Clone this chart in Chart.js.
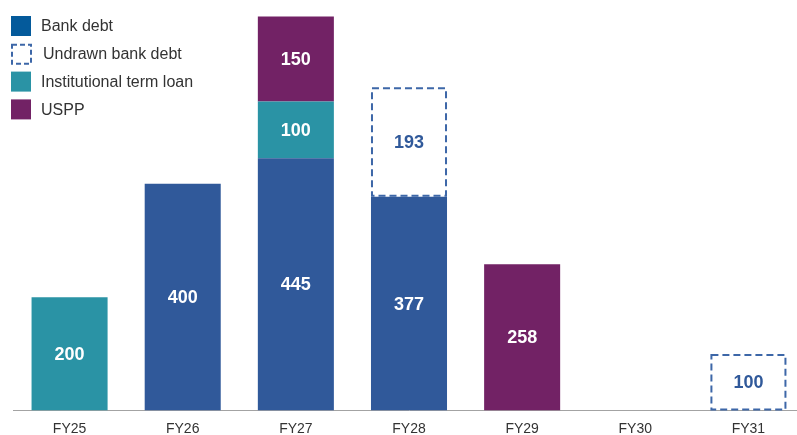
<!DOCTYPE html>
<html>
<head>
<meta charset="utf-8">
<script src="https://cdn.jsdelivr.net/npm/chart.js@4.4.1/dist/chart.umd.min.js"></script>
<style>
  html, body { margin: 0; padding: 0; background: #fff; overflow: hidden; }
  #wrap { width: 805px; height: 448px; }
</style>
</head>
<body>
<div id="wrap"><canvas id="debt" width="805" height="448"></canvas></div>
<script>
// Debt maturity profile by financial year ($m)
const categories = ['FY25', 'FY26', 'FY27', 'FY28', 'FY29', 'FY30', 'FY31'];
const bankDebt = [null, 400, 445, 377, null, null, null];
const termLoan = [200, null, 100, null, null, null, null];
const uspp = [null, null, 150, null, 258, null, null];
const undrawnBankDebt = [null, null, null, 193, null, null, 100];

const BLUE = '#30599a';
const LEGEND_BLUE = '#045a9b';
const DASH_BLUE = '#3d67a8';
const TEAL = '#2a93a5';
const PURPLE = '#722265';
const FONT = '"Liberation Sans", Arial, sans-serif';

// undrawn facilities are outlined with a dashed box instead of filled
const dashedBars = {
  id: 'dashedBars',
  afterDatasetsDraw(chart) {
    const ctx = chart.ctx;
    chart.data.datasets.forEach((ds, i) => {
      if (!ds.dashed) return;
      chart.getDatasetMeta(i).data.forEach((bar, j) => {
        if (ds.data[j] == null) return;
        const w = bar.width;
        ctx.save();
        ctx.strokeStyle = DASH_BLUE;
        ctx.lineWidth = 2;
        ctx.setLineDash([7, 4]);
        ctx.strokeRect(bar.x - w / 2 + 1, bar.y + 1, w - 2, bar.base - bar.y - 2);
        ctx.restore();
      });
    });
  }
};

// value printed in the middle of each segment
const segmentLabels = {
  id: 'segmentLabels',
  afterDatasetsDraw(chart) {
    const ctx = chart.ctx;
    ctx.save();
    ctx.font = 'bold 18px ' + FONT;
    ctx.textAlign = 'center';
    ctx.textBaseline = 'middle';
    chart.data.datasets.forEach((ds, i) => {
      chart.getDatasetMeta(i).data.forEach((bar, j) => {
        const v = ds.data[j];
        if (v == null) return;
        ctx.fillStyle = ds.dashed ? BLUE : '#ffffff';
        ctx.fillText(String(v), bar.x, (bar.y + bar.base) / 2 + 1);
      });
    });
    ctx.restore();
  }
};

// vertical key in the top-left corner
const keyItems = [
  { label: 'Bank debt', color: LEGEND_BLUE },
  { label: 'Undrawn bank debt', dashed: true },
  { label: 'Institutional term loan', color: TEAL },
  { label: 'USPP', color: PURPLE }
];
const cornerLegend = {
  id: 'cornerLegend',
  afterDraw(chart) {
    const ctx = chart.ctx;
    ctx.save();
    ctx.font = '16px ' + FONT;
    ctx.textBaseline = 'middle';
    keyItems.forEach((item, k) => {
      const cy = 26 + k * 27.8;
      if (item.dashed) {
        ctx.strokeStyle = DASH_BLUE;
        ctx.lineWidth = 2;
        ctx.setLineDash([5, 3]);
        ctx.strokeRect(12, cy - 9, 19, 19);
        ctx.setLineDash([]);
      } else {
        ctx.fillStyle = item.color;
        ctx.fillRect(11, cy - 10, 20, 20);
      }
      ctx.fillStyle = '#333333';
      ctx.fillText(item.label, item.dashed ? 43 : 41, cy + 1);
    });
    ctx.restore();
  }
};

new Chart(document.getElementById('debt'), {
  type: 'bar',
  data: {
    labels: categories,
    datasets: [
      { label: 'Bank debt', data: bankDebt, backgroundColor: BLUE },
      { label: 'Institutional term loan', data: termLoan, backgroundColor: TEAL },
      { label: 'USPP', data: uspp, backgroundColor: PURPLE },
      { label: 'Undrawn bank debt', data: undrawnBankDebt, backgroundColor: 'rgba(0,0,0,0)', dashed: true }
    ]
  },
  options: {
    responsive: false,
    animation: false,
    layout: { padding: { left: 13, right: 0, top: 0, bottom: 0 } },
    datasets: { bar: { categoryPercentage: 1, barPercentage: 0.672, borderWidth: 0 } },
    plugins: { legend: { display: false }, tooltip: { enabled: false } },
    scales: {
      x: {
        stacked: true,
        grid: { display: false, drawTicks: false },
        border: { display: true, color: '#a3a3a3', width: 1 },
        ticks: { color: '#333333', padding: 11, font: { family: FONT, size: 14, lineHeight: 1.1 } }
      },
      y: {
        stacked: true,
        display: false,
        min: 0,
        max: 724
      }
    }
  },
  plugins: [dashedBars, segmentLabels, cornerLegend]
});
</script>
</body>
</html>
